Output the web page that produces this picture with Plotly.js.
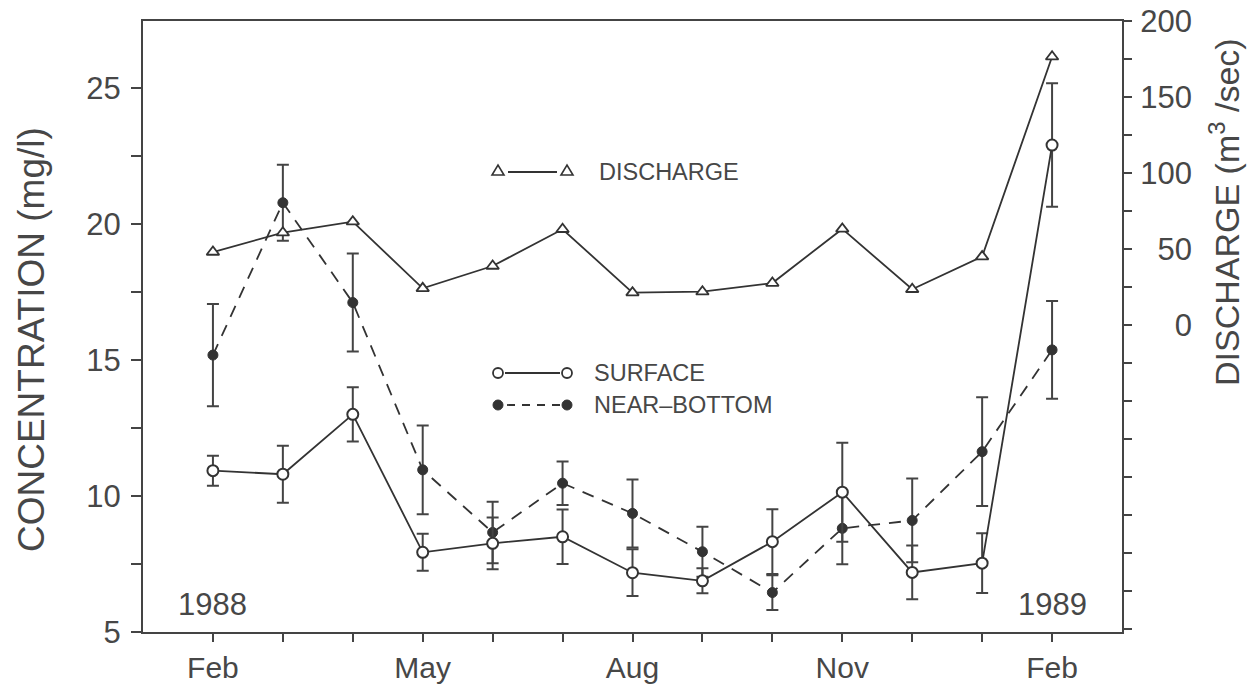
<!DOCTYPE html>
<html>
<head>
<meta charset="utf-8">
<script src="https://cdn.plot.ly/plotly-3.0.1.min.js"></script>
<style>
  html, body { margin: 0; padding: 0; background: #ffffff; }
  #chart { width: 1250px; height: 688px; }
</style>
</head>
<body>
<div id="chart"></div>
<script>
// ---- data (months since Feb 1988) ----
const monthIndex = [0, 1, 2, 3, 4, 5, 6, 7, 8, 9, 10, 11, 12];
const xTickVals = [0, 3, 6, 9, 12];
const xTickText = ['Feb', 'May', 'Aug', 'Nov', 'Feb'];

const discharge = [48, 60.7, 68, 24.1, 38.8, 63, 21.3, 21.9, 27.6, 63.2, 23.5, 45, 176.5];

const surface    = [10.93, 10.80, 13.0, 7.93, 8.26, 8.50, 7.18, 6.88, 8.32, 10.14, 7.19, 7.53, 22.9];
const surfaceErr = [0.55, 1.05, 1.0, 0.68, 0.95, 1.0, 0.86, 0.46, 1.19, 1.82, 0.99, 1.1, 2.27];

const nearBottom    = [15.18, 20.78, 17.11, 10.96, 8.66, 10.47, 9.36, 7.95, 6.45, 8.81, 9.10, 11.63, 15.37];
const nearBottomErr = [1.88, 1.4, 1.8, 1.63, 1.13, 0.8, 1.25, 0.92, 0.64, 1.32, 1.54, 2.0, 1.8];

const concTickVals = [5, 7.5, 10, 12.5, 15, 17.5, 20, 22.5, 25];
const concTickText = ['5', ' ', '10', ' ', '15', ' ', '20', ' ', '25'];
const dischTickVals = [-200, -175, -150, -125, -100, -75, -50, -25, 0, 25, 50, 75, 100, 125, 150, 175, 200];
const dischTickText = [' ', ' ', ' ', ' ', ' ', ' ', ' ', ' ', '\u2007\u20070', ' ', '\u200750', ' ', '100', ' ', '150', ' ', '200'];

const legendLabels = ['DISCHARGE', 'SURFACE', 'NEAR\u2013BOTTOM'];

// ---- styling ----
const ink = '#333333';
const txt = '#474747';
const FONT = 'Liberation Sans, Arial, Helvetica, sans-serif';

const L = 143, R = 1122, T = 21, B = 632;
const px = v => (v - L) / (R - L);
const py = v => (B - v) / (B - T);

const traces = [
  {
    x: monthIndex, y: discharge, yaxis: 'y2', type: 'scatter', mode: 'lines+markers',
    line: { color: ink, width: 1.8 },
    marker: { symbol: 'triangle-up', size: 11, color: '#ffffff', line: { color: ink, width: 1.8 } },
    showlegend: false, hoverinfo: 'skip'
  },
  {
    x: monthIndex, y: nearBottom, type: 'scatter', mode: 'lines+markers',
    line: { color: ink, width: 1.8, dash: '12px,9px' },
    marker: { symbol: 'circle', size: 10, color: ink, line: { color: ink, width: 1 } },
    error_y: { type: 'data', array: nearBottomErr, visible: true, color: '#444', thickness: 2, width: 6 },
    showlegend: false, hoverinfo: 'skip'
  },
  {
    x: monthIndex, y: surface, type: 'scatter', mode: 'lines+markers',
    line: { color: ink, width: 1.8 },
    marker: { symbol: 'circle', size: 11, color: '#ffffff', line: { color: ink, width: 2 } },
    error_y: { type: 'data', array: surfaceErr, visible: true, color: '#444', thickness: 2, width: 6 },
    showlegend: false, hoverinfo: 'skip'
  }
];

function pxShape(type, xa, ya, extra) {
  return Object.assign({
    type: type, xref: 'paper', yref: 'paper',
    xsizemode: 'pixel', ysizemode: 'pixel', xanchor: xa, yanchor: ya
  }, extra);
}

const legY = [py(172), py(373), py(405)];
const legX1 = px(498), legX2 = px(567);

const shapes = [
  { type: 'line', xref: 'paper', yref: 'paper', x0: px(508), x1: px(557), y0: legY[0], y1: legY[0], line: { color: ink, width: 1.8 } },
  pxShape('path', legX1, legY[0], { path: 'M-6,-3L6,-3L0,7Z', fillcolor: '#fff', line: { color: ink, width: 1.6 } }),
  pxShape('path', legX2, legY[0], { path: 'M-6,-3L6,-3L0,7Z', fillcolor: '#fff', line: { color: ink, width: 1.6 } }),
  { type: 'line', xref: 'paper', yref: 'paper', x0: px(505), x1: px(560), y0: legY[1], y1: legY[1], line: { color: ink, width: 1.8 } },
  pxShape('circle', legX1, legY[1], { x0: -5, x1: 5, y0: -5, y1: 5, fillcolor: '#fff', line: { color: ink, width: 1.8 } }),
  pxShape('circle', legX2, legY[1], { x0: -5, x1: 5, y0: -5, y1: 5, fillcolor: '#fff', line: { color: ink, width: 1.8 } }),
  { type: 'line', xref: 'paper', yref: 'paper', x0: px(507), x1: px(560), y0: legY[2], y1: legY[2], line: { color: ink, width: 1.8, dash: '8px,7px' } },
  pxShape('circle', legX1, legY[2], { x0: -5, x1: 5, y0: -5, y1: 5, fillcolor: ink, line: { color: ink, width: 1 } }),
  pxShape('circle', legX2, legY[2], { x0: -5, x1: 5, y0: -5, y1: 5, fillcolor: ink, line: { color: ink, width: 1 } })
];

const annotations = [
  { text: legendLabels[0], xref: 'paper', yref: 'paper', x: px(597), y: legY[0], xanchor: 'left', yanchor: 'middle', showarrow: false, font: { family: FONT, size: 23.5, color: txt } },
  { text: legendLabels[1], xref: 'paper', yref: 'paper', x: px(592), y: legY[1], xanchor: 'left', yanchor: 'middle', showarrow: false, font: { family: FONT, size: 23.5, color: txt } },
  { text: legendLabels[2], xref: 'paper', yref: 'paper', x: px(592), y: legY[2], xanchor: 'left', yanchor: 'middle', showarrow: false, font: { family: FONT, size: 23.5, color: txt } },
  { text: '1988', xref: 'x', yref: 'paper', x: monthIndex[0], y: py(604), xanchor: 'center', yanchor: 'middle', showarrow: false, font: { family: FONT, size: 31, color: txt } },
  { text: '1989', xref: 'x', yref: 'paper', x: monthIndex[12], y: py(604), xanchor: 'center', yanchor: 'middle', showarrow: false, font: { family: FONT, size: 31, color: txt } },
  { text: 'CONCENTRATION (mg/l)', xref: 'paper', yref: 'paper', x: px(31), y: py(340), xanchor: 'center', yanchor: 'middle', textangle: -90, showarrow: false, font: { family: FONT, size: 37, color: txt } },
  { text: 'DISCHARGE (m<sup>3</sup> /sec)', xref: 'paper', yref: 'paper', x: px(1224), y: py(212), xanchor: 'center', yanchor: 'middle', textangle: -90, showarrow: false, font: { family: FONT, size: 34, color: txt } }
];

const axisCommon = {
  showline: true, linecolor: '#444', linewidth: 2,
  ticks: 'outside', tickcolor: '#444', tickwidth: 2,
  showgrid: false, zeroline: false, fixedrange: true,
  tickfont: { family: FONT, size: 31, color: txt }
};

const layout = {
  width: 1250, height: 688,
  margin: { l: L, r: 1250 - R, t: T, b: 688 - B, pad: 0 },
  paper_bgcolor: '#ffffff', plot_bgcolor: '#ffffff',
  showlegend: false,
  xaxis: Object.assign({}, axisCommon, {
    range: [-1, 13], mirror: true, ticklen: 8,
    tickmode: 'array',
    tickvals: monthIndex,
    ticktext: monthIndex.map(m => { const i = xTickVals.indexOf(m); return i >= 0 ? xTickText[i] : ' '; }),
    tickfont: { family: FONT, size: 30, color: txt },
    ticklabelstandoff: 0
  }),
  yaxis: Object.assign({}, axisCommon, {
    range: [5, 27.46], ticklen: 10,
    tickmode: 'array', tickvals: concTickVals, ticktext: concTickText,
    ticklabelstandoff: 4
  }),
  yaxis2: Object.assign({}, axisCommon, {
    overlaying: 'y', side: 'right', range: [-202, 200], ticklen: 8,
    tickmode: 'array', tickvals: dischTickVals, ticktext: dischTickText,
    ticklabelstandoff: 2
  }),
  shapes: shapes,
  annotations: annotations
};

Plotly.newPlot('chart', traces, layout, { displayModeBar: false, staticPlot: true });
</script>
</body>
</html>
